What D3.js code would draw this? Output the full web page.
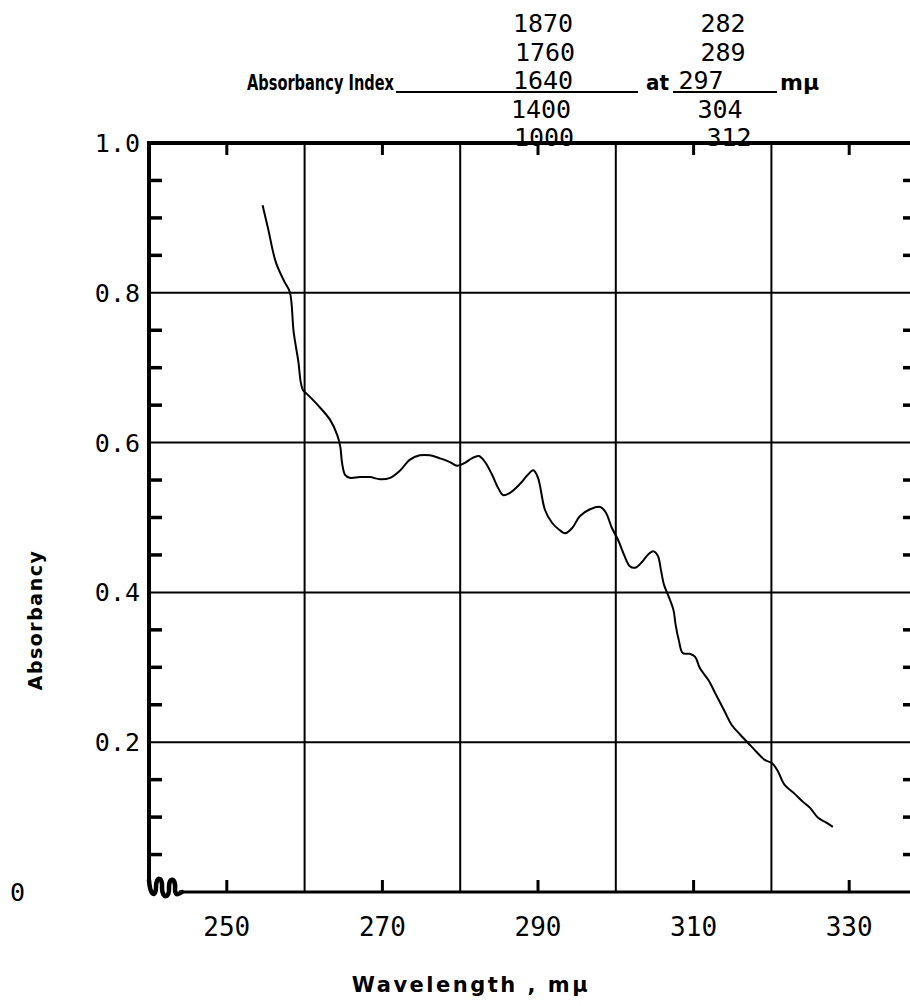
<!DOCTYPE html>
<html>
<head>
<meta charset="utf-8">
<script src="https://cdn.jsdelivr.net/npm/d3@7"></script>
<style>
	body { margin: 0; background: #fff; }
	svg { display: block; }
	.num { font-family: "DejaVu Sans Mono", "Liberation Mono", monospace; fill: #000; }
	.bold { font-family: "DejaVu Sans", "Noto Sans", sans-serif; font-weight: bold; fill: #000; }
</style>
</head>
<body>
<svg id="chart" width="910" height="1006"></svg>
<script>
// absorbancy trace
var wavelength = [254.6, 255.3, 256.3, 257.4, 258.1, 258.6, 259.2, 259.5, 259.8, 260.2, 261.7, 263.3, 264.2, 264.6,
	264.8, 265.2, 265.8, 267.1, 268.4, 269.7, 271.0, 272.3, 273.5, 274.8, 276.1, 277.4, 278.7, 279.6, 280.6,
	281.5, 282.4, 283.2, 284.1, 284.9, 285.5, 286.4, 287.7, 288.6, 289.4, 290.0, 290.9, 291.8, 292.8, 293.5,
	294.4, 295.4, 296.7, 298.0, 298.7, 299.5, 300.3, 301.1, 301.8, 302.5, 303.4, 304.1, 304.8, 305.4, 305.8,
	306.2, 306.7, 307.4, 307.7, 308.1, 308.6, 309.5, 310.2, 310.8, 311.9, 312.9, 313.9, 314.9, 316.0, 317.0,
	318.0, 319.2, 320.1, 320.8, 321.7, 323.0, 324.1, 325.0, 326.0, 327.0, 327.9];
var absorbancy = [0.917, 0.886, 0.841, 0.815, 0.801, 0.747, 0.708, 0.681, 0.670, 0.666, 0.650, 0.630, 0.610, 0.594,
	0.574, 0.557, 0.553, 0.554, 0.554, 0.551, 0.553, 0.563, 0.577, 0.583, 0.583, 0.579, 0.574, 0.569, 0.573,
	0.579, 0.582, 0.574, 0.557, 0.539, 0.530, 0.533, 0.545, 0.556, 0.563, 0.553, 0.510, 0.493, 0.483, 0.479,
	0.486, 0.502, 0.511, 0.514, 0.507, 0.486, 0.470, 0.449, 0.435, 0.433, 0.441, 0.450, 0.455, 0.449, 0.430,
	0.410, 0.397, 0.377, 0.356, 0.336, 0.319, 0.318, 0.314, 0.299, 0.283, 0.263, 0.243, 0.223, 0.210, 0.199,
	0.188, 0.176, 0.172, 0.162, 0.143, 0.131, 0.120, 0.112, 0.099, 0.093, 0.087];

var xTicks = [250, 270, 290, 310, 330];
var xGrid = [260, 280, 300, 320];
var yGrid = [0.2, 0.4, 0.6, 0.8];
var yMinor = [0.05, 0.1, 0.15, 0.25, 0.3, 0.35, 0.45, 0.5, 0.55, 0.65, 0.7, 0.75, 0.85, 0.9, 0.95];
var yLabels = [0, 0.2, 0.4, 0.6, 0.8, 1.0];

var indexValues = ['1870', '1760', '1640', '1400', '1000'];
var indexWavelengths = ['282', '289', '297', '304', '312'];

var svg = d3.select('#chart');

var x = d3.scaleLinear().domain([240, 340]).range([149, 927]);
var y = d3.scaleLinear().domain([0, 1]).range([892, 143]);
var frameRight = 916;

// grid
svg.append('g').selectAll('line').data(xGrid).enter().append('line')
	.attr('x1', function(d) { return x(d); }).attr('x2', function(d) { return x(d); })
	.attr('y1', y(1)).attr('y2', y(0))
	.attr('stroke', '#000').attr('stroke-width', 2);

svg.append('g').selectAll('line').data(yGrid).enter().append('line')
	.attr('x1', x(240)).attr('x2', frameRight)
	.attr('y1', function(d) { return y(d); }).attr('y2', function(d) { return y(d); })
	.attr('stroke', '#000').attr('stroke-width', 2);

// frame: top, left (broken near origin), bottom, right
svg.append('line').attr('x1', x(240)).attr('x2', frameRight).attr('y1', y(1)).attr('y2', y(1))
	.attr('stroke', '#000').attr('stroke-width', 4);
svg.append('line').attr('x1', x(240)).attr('x2', x(240)).attr('y1', y(1) - 2).attr('y2', y(0) - 10)
	.attr('stroke', '#000').attr('stroke-width', 4);
svg.append('line').attr('x1', x(240) + 30).attr('x2', frameRight).attr('y1', y(0)).attr('y2', y(0))
	.attr('stroke', '#000').attr('stroke-width', 3);
svg.append('line').attr('x1', frameRight).attr('x2', frameRight).attr('y1', y(1)).attr('y2', y(0))
	.attr('stroke', '#000').attr('stroke-width', 4);

// axis break squiggle
var ox = x(240), oy = y(0);
svg.append('path')
	.attr('d', 'M' + ox + ',' + (oy - 12)
		+ ' C' + (ox + 1) + ',' + (oy + 4) + ' ' + (ox + 7) + ',' + (oy + 6) + ' ' + (ox + 7) + ',' + (oy - 5)
		+ ' C' + (ox + 7) + ',' + (oy - 16) + ' ' + (ox + 14) + ',' + (oy - 16) + ' ' + (ox + 13) + ',' + (oy - 4)
		+ ' C' + (ox + 13) + ',' + (oy + 7) + ' ' + (ox + 21) + ',' + (oy + 7) + ' ' + (ox + 20) + ',' + (oy - 5)
		+ ' C' + (ox + 20) + ',' + (oy - 16) + ' ' + (ox + 27) + ',' + (oy - 14) + ' ' + (ox + 26) + ',' + (oy - 3)
		+ ' C' + (ox + 26) + ',' + (oy + 5) + ' ' + (ox + 30) + ',' + (oy + 2) + ' ' + (ox + 33) + ',' + oy)
	.attr('fill', 'none').attr('stroke', '#000').attr('stroke-width', 4.5).attr('stroke-linecap', 'round');

// ticks on top and bottom
svg.append('g').selectAll('line').data(xTicks).enter().append('line')
	.attr('x1', function(d) { return x(d); }).attr('x2', function(d) { return x(d); })
	.attr('y1', y(1)).attr('y2', y(1) + 12)
	.attr('stroke', '#000').attr('stroke-width', 3);
svg.append('g').selectAll('line').data(xTicks).enter().append('line')
	.attr('x1', function(d) { return x(d); }).attr('x2', function(d) { return x(d); })
	.attr('y1', y(0)).attr('y2', y(0) - 12)
	.attr('stroke', '#000').attr('stroke-width', 3);

// minor ticks on left and right
svg.append('g').selectAll('line').data(yMinor).enter().append('line')
	.attr('x1', x(240)).attr('x2', x(240) + 13)
	.attr('y1', function(d) { return y(d); }).attr('y2', function(d) { return y(d); })
	.attr('stroke', '#000').attr('stroke-width', 3.5);
svg.append('g').selectAll('line').data(yMinor).enter().append('line')
	.attr('x1', frameRight - 13).attr('x2', frameRight)
	.attr('y1', function(d) { return y(d); }).attr('y2', function(d) { return y(d); })
	.attr('stroke', '#000').attr('stroke-width', 3.5);

// tick labels
svg.append('g').selectAll('text').data(xTicks).enter().append('text')
	.attr('class', 'num').attr('font-size', 26)
	.attr('x', function(d) { return x(d); }).attr('y', y(0) + 44)
	.attr('text-anchor', 'middle').text(function(d) { return d; });

svg.append('g').selectAll('text').data(yLabels).enter().append('text')
	.attr('class', 'num').attr('font-size', 25)
	.attr('x', function(d) { return d === 0 ? 10 : 140; })
	.attr('y', function(d) { return y(d) + 9; })
	.attr('text-anchor', function(d) { return d === 0 ? 'start' : 'end'; })
	.text(function(d) { return d === 0 ? '0' : d.toFixed(1); });

// absorbancy curve
var pts = wavelength.map(function(w, i) { return [w, absorbancy[i]]; });
svg.append('path').datum(pts)
	.attr('d', d3.line()
		.x(function(d) { return x(d[0]); })
		.y(function(d) { return y(d[1]); })
		.curve(d3.curveCatmullRom.alpha(0.5)))
	.attr('fill', 'none').attr('stroke', '#000').attr('stroke-width', 2);

// header: absorbancy index at wavelengths
var rowY = d3.scaleLinear().domain([0, 4]).range([32, 146]);
var leftCol = [543, 545, 543, 541, 544];
var rightCol = [723, 723, 701, 720, 729];
svg.append('g').selectAll('text').data(indexValues).enter().append('text')
	.attr('class', 'num').attr('font-size', 25)
	.attr('x', function(d, i) { return leftCol[i]; }).attr('y', function(d, i) { return rowY(i); })
	.attr('text-anchor', 'middle').text(function(d) { return d; });
svg.append('g').selectAll('text').data(indexWavelengths).enter().append('text')
	.attr('class', 'num').attr('font-size', 25)
	.attr('x', function(d, i) { return rightCol[i]; }).attr('y', function(d, i) { return rowY(i); })
	.attr('text-anchor', 'middle').text(function(d) { return d; });

var headY = rowY(2) + 1;
svg.append('text').attr('class', 'bold').attr('font-size', 22)
	.attr('x', 247).attr('y', headY)
	.attr('textLength', 147).attr('lengthAdjust', 'spacingAndGlyphs')
	.text('Absorbancy  Index');
svg.append('line').attr('x1', 396).attr('x2', 638).attr('y1', headY + 2).attr('y2', headY + 2)
	.attr('stroke', '#000').attr('stroke-width', 2);
svg.append('text').attr('class', 'bold').attr('font-size', 22)
	.attr('x', 646).attr('y', headY)
	.attr('textLength', 23).attr('lengthAdjust', 'spacingAndGlyphs').text('at');
svg.append('line').attr('x1', 673).attr('x2', 777).attr('y1', headY + 2).attr('y2', headY + 2)
	.attr('stroke', '#000').attr('stroke-width', 2);
svg.append('text').attr('class', 'bold').attr('font-size', 22)
	.attr('x', 780).attr('y', headY).text('mμ');

// axis titles
svg.append('text').attr('class', 'bold').attr('font-size', 21)
	.attr('x', 471).attr('y', 992).attr('text-anchor', 'middle').attr('letter-spacing', 2.5)
	.text('Wavelength ,  mμ');
svg.append('text').attr('class', 'bold').attr('font-size', 19)
	.attr('transform', 'translate(42,620) rotate(-90)')
	.attr('text-anchor', 'middle').attr('letter-spacing', 1.5)
	.text('Absorbancy');
</script>
</body>
</html>
